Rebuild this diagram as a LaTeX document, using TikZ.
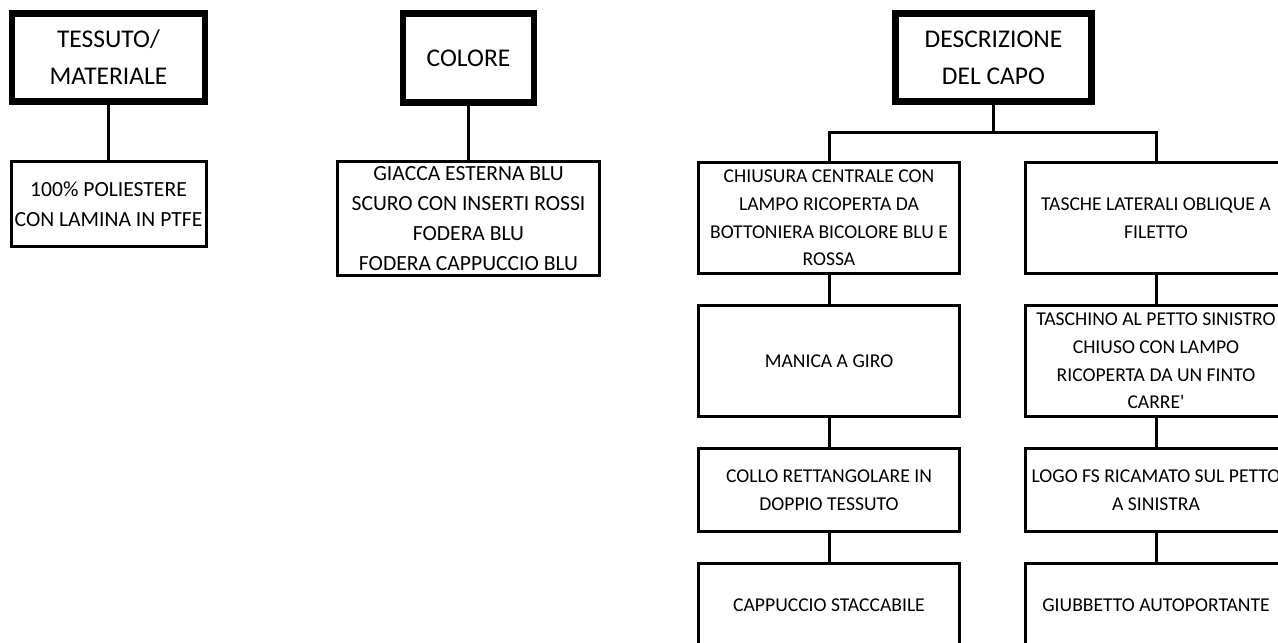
\documentclass[tikz,border=0pt]{standalone}
\usepackage{fontspec}
\setmainfont{Carlito}
\usepackage{tikz}
\usetikzlibrary{shapes,arrows}

\begin{document}
\begin{tikzpicture}[x=1pt,y=-1pt]
\tikzstyle{box}=[draw,line width=3pt,align=center,inner sep=0pt];
\tikzstyle{hdr}=[box,line width=6.5pt,font=\fontsize{25.5}{37}\selectfont];
\tikzstyle{lcell}=[box,font=\fontsize{21.6}{30}\selectfont];
\tikzstyle{rcell}=[box,minimum width=261pt,font=\fontsize{19.6}{27.7}\selectfont];
\tikzstyle{conn}=[line width=3pt];

\useasboundingbox (0,0) rectangle (1278,643);
\clip (0,0) rectangle (1278,643);

% headers
\node[hdr,minimum width=193pt,minimum height=88pt] (tess) at (108.5,57.5) {TESSUTO/\\MATERIALE};
\node[hdr,minimum width=131pt,minimum height=89pt] (col) at (468.5,58) {COLORE};
\node[hdr,minimum width=196pt,minimum height=88pt] (descr) at (993.5,57.5) {DESCRIZIONE\\DEL CAPO};

% values
\node[lcell,minimum width=195pt,minimum height=85pt] (tessv) at (108.5,204) {100\% POLIESTERE\\CON LAMINA IN PTFE};
\node[lcell,minimum width=262pt,minimum height=114pt] (colv) at (468.5,218.5) {GIACCA ESTERNA BLU\\SCURO CON INSERTI ROSSI\\FODERA BLU\\FODERA CAPPUCCIO BLU};

\node[rcell,minimum height=111pt] (chius) at (829,218) {CHIUSURA CENTRALE CON\\LAMPO RICOPERTA DA\\BOTTONIERA BICOLORE BLU E\\ROSSA};
\node[rcell,minimum height=111pt] (manica) at (829,361) {MANICA A GIRO};
\node[rcell,minimum height=83pt] (collo) at (829,490) {COLLO RETTANGOLARE IN\\DOPPIO TESSUTO};
\node[rcell,minimum height=83pt] (capp) at (829,605) {CAPPUCCIO STACCABILE};

\node[rcell,minimum height=111pt] (tasche) at (1156,218) {TASCHE LATERALI OBLIQUE A\\FILETTO};
\node[rcell,minimum height=111pt] (taschino) at (1156,361) {TASCHINO AL PETTO SINISTRO\\CHIUSO CON LAMPO\\RICOPERTA DA UN FINTO\\CARRE\textquotesingle};
\node[rcell,minimum height=83pt] (logo) at (1156,490) {LOGO FS RICAMATO SUL PETTO\\A SINISTRA};
\node[rcell,minimum height=83pt] (giubb) at (1156,605) {GIUBBETTO AUTOPORTANTE};

% connectors
\draw[conn] (tess.south) -- (tessv.north);
\draw[conn] (col.south) -- (colv.north);
\coordinate (bar) at (993.5,132);
\draw[conn] (descr.south) -- (bar);
\draw[conn] (chius.north) |- (bar) -| (tasche.north);
\draw[conn] (chius.south) -- (manica.north);
\draw[conn] (manica.south) -- (collo.north);
\draw[conn] (collo.south) -- (capp.north);
\draw[conn] (tasche.south) -- (taschino.north);
\draw[conn] (taschino.south) -- (logo.north);
\draw[conn] (logo.south) -- (giubb.north);
\end{tikzpicture}
\end{document}
